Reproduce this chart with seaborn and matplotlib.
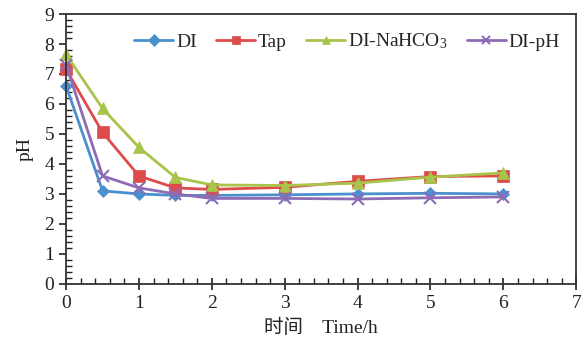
import numpy as np
import pandas as pd
import matplotlib
matplotlib.use("Agg")
import matplotlib.pyplot as plt
import seaborn as sns
from matplotlib.ticker import MultipleLocator

time = [0, 0.5, 1, 1.5, 2, 3, 4, 5, 6]
di = [6.6, 3.1, 3.0, 2.95, 2.95, 2.97, 3.0, 3.02, 3.0]
tap = [7.15, 5.05, 3.6, 3.2, 3.15, 3.22, 3.42, 3.58, 3.6]
nahco3 = [7.65, 5.85, 4.55, 3.55, 3.3, 3.28, 3.36, 3.56, 3.7]
diph = [7.3, 3.6, 3.2, 3.0, 2.85, 2.85, 2.83, 2.87, 2.9]
series_names = ["DI", "Tap", r"DI-NaHCO$_3$", "DI-pH"]
colors = ["#4a90cf", "#de4b4b", "#a8c44a", "#8e6bb5"]
markers = ["D", "s", "^", "x"]
msizes = [6, 8, 9, 8]

sns.set_style("ticks")
plt.rcParams["font.family"] = ["Liberation Serif", "Noto Sans CJK SC"]
plt.rcParams["mathtext.fontset"] = "custom"
plt.rcParams["mathtext.rm"] = "Liberation Serif"
plt.rcParams["mathtext.it"] = "Liberation Serif:italic"

rows = []
for name, vals in zip(series_names, [di, tap, nahco3, diph]):
    for t, v in zip(time, vals):
        rows.append({"Time": t, "pH": v, "Series": name})
df = pd.DataFrame(rows)

fig = plt.figure(figsize=(5.85, 3.42), dpi=100)
ax = fig.add_axes([0.113, 0.170, 0.872, 0.789])

for name, c, m, ms in zip(series_names, colors, markers, msizes):
    sub = df[df["Series"] == name]
    sns.lineplot(data=sub, x="Time", y="pH", ax=ax, color=c, marker=m,
                 markersize=ms, linewidth=2.0, label=name, clip_on=False,
                 markeredgecolor=c, markeredgewidth=1.5 if m == "x" else 0.5)

ax.set_xlim(0, 7)
ax.set_ylim(0, 9)
ax.xaxis.set_major_locator(MultipleLocator(1))
ax.xaxis.set_minor_locator(MultipleLocator(0.2))
ax.yaxis.set_major_locator(MultipleLocator(1))
ax.yaxis.set_minor_locator(MultipleLocator(0.2))
ax.tick_params(axis="x", which="major", direction="inout", length=8, width=1.2, labelsize=14, colors="#222222", pad=4)
ax.tick_params(axis="x", which="minor", direction="in", length=4, width=1.0, colors="#222222")
ax.tick_params(axis="y", which="major", direction="out", length=5, width=1.2, labelsize=14, colors="#222222")
ax.tick_params(axis="y", which="minor", direction="in", length=4, width=1.0, colors="#222222")
for s in ax.spines.values():
    s.set_visible(True)
    s.set_linewidth(1.3)
    s.set_color("#333333")

ax.set_ylabel("pH", fontsize=14, color="#222222", labelpad=8)
ax.set_xlabel("时间    Time/h", fontsize=14, color="#222222", labelpad=5)

leg = ax.legend(loc="upper right", bbox_to_anchor=(0.995, 0.985), ncol=4, frameon=False,
          fontsize=14, handlelength=2.0, columnspacing=1.0, handletextpad=0.15,
          borderaxespad=0.3)
for h in leg.legend_handles:
    h.set_markersize(6)

fig.savefig("out.png", dpi=100)
